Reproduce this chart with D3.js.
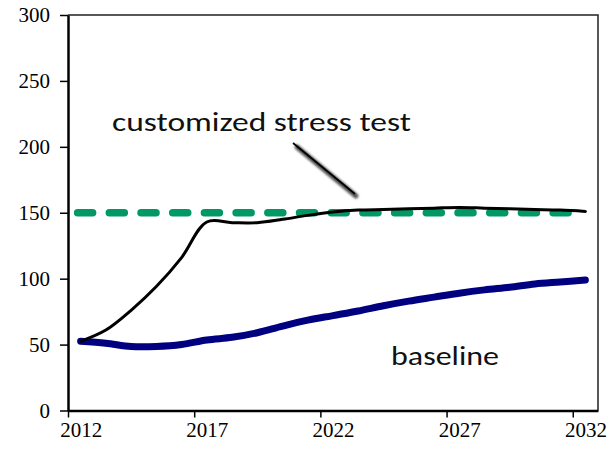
<!DOCTYPE html>
<html>
<head>
<meta charset="utf-8">
<script src="https://cdn.jsdelivr.net/npm/d3@7"></script>
<style>
  body { margin: 0; background: #fff; }
  svg { display: block; }
</style>
</head>
<body>
<script>
var years = d3.range(2012, 2033);
var baseline = [52.5, 51, 48.5, 48.5, 50, 53.5, 55.5, 59, 64, 68.5, 72, 75.5, 79.5, 83, 86, 89, 91.5, 93.5, 96, 97.5, 99];
var stressTest = [52.5, 61, 76, 94, 116, 143, 142.5, 142.5, 145, 148, 150.5, 152, 152.5, 153, 153.5, 154, 153.5, 153, 152.5, 152, 151];
var threshold = years.map(function(){ return 150; });
var yTicks = [0, 50, 100, 150, 200, 250, 300];
var xTicks = [2012, 2017, 2022, 2027, 2032];

var width = 613, height = 449;
var plotLeft = 68, plotRight = 598, plotTop = 15, plotBottom = 410.5;

var svg = d3.select("body").append("svg")
	.attr("width", width)
	.attr("height", height);

var x = d3.scaleLinear().domain([2012, 2033]).range([plotLeft, plotRight]);
var y = d3.scaleLinear().domain([0, 300]).range([plotBottom, plotTop]);
var half = (x(2013) - x(2012)) / 2;

// frame (top + right, thinner)
svg.append("path")
	.attr("d", "M" + plotLeft + "," + plotTop + "H" + plotRight + "V" + plotBottom)
	.attr("fill", "none")
	.attr("stroke", "#222")
	.attr("stroke-width", 1.5);

// y axis
var yAxis = svg.append("g")
	.attr("transform", "translate(" + plotLeft + ",0)")
	.call(d3.axisLeft(y).tickValues(yTicks).tickSize(8).tickSizeOuter(0).tickPadding(10));

// x axis: ticks on category edges, labels in the middle of the category
var xAxis = svg.append("g")
	.attr("transform", "translate(0," + plotBottom + ")")
	.call(d3.axisBottom(x).tickValues(xTicks).tickFormat(d3.format("d")).tickSize(7).tickSizeOuter(0).tickPadding(5));
xAxis.selectAll(".tick text").attr("x", half);

[yAxis, xAxis].forEach(function(g){
	g.select(".domain").attr("stroke", "#000").attr("stroke-width", 2.5);
	g.selectAll(".tick line").attr("stroke", "#000").attr("stroke-width", 1.5);
	g.selectAll(".tick text")
		.attr("fill", "#000")
		.style("font-family", "'Liberation Serif', 'Times New Roman', serif")
		.style("font-size", "21px");
});

function px(i){ return x(years[i] + 0.5); }

var line = d3.line()
	.x(function(d, i){ return px(i); })
	.y(function(d){ return y(d); })
	.curve(d3.curveCatmullRom.alpha(0.5));

// green dashed threshold
svg.append("path")
	.datum(threshold)
	.attr("d", d3.line().x(function(d, i){ return px(i) - 3; }).y(function(d){ return y(d); }))
	.attr("fill", "none")
	.attr("stroke", "#009966")
	.attr("stroke-width", 7.5)
	.attr("stroke-linecap", "round")
	.attr("stroke-dasharray", "15 16.7");

// baseline
svg.append("path")
	.datum(baseline)
	.attr("d", line)
	.attr("fill", "none")
	.attr("stroke", "#000080")
	.attr("stroke-width", 7)
	.attr("stroke-linecap", "round");

// customized stress test
svg.append("path")
	.datum(stressTest)
	.attr("d", line)
	.attr("fill", "none")
	.attr("stroke", "#000")
	.attr("stroke-width", 3)
	.attr("stroke-linecap", "round");

// annotations
var labelFont = "Carlito, Calibri, Lato, 'Noto Sans', sans-serif";
svg.append("text")
	.attr("x", 112).attr("y", 131)
	.attr("textLength", 299).attr("lengthAdjust", "spacingAndGlyphs")
	.style("font-family", labelFont).style("font-size", "26px").attr("fill", "#111")
	.text("customized stress test");

svg.append("text")
	.attr("x", 391).attr("y", 365)
	.attr("textLength", 108).attr("lengthAdjust", "spacingAndGlyphs")
	.style("font-family", labelFont).style("font-size", "26px").attr("fill", "#111")
	.text("baseline");

// pointer with soft shadow
var defs = svg.append("defs");
defs.append("filter").attr("id", "blur")
	.append("feGaussianBlur").attr("stdDeviation", 1.2);
svg.append("line")
	.attr("x1", 297).attr("y1", 147).attr("x2", 356).attr("y2", 196)
	.attr("stroke", "#555").attr("stroke-width", 5).attr("stroke-linecap", "round")
	.attr("filter", "url(#blur)");
svg.append("line")
	.attr("x1", 293).attr("y1", 143).attr("x2", 355).attr("y2", 194)
	.attr("stroke", "#000").attr("stroke-width", 1.8);
</script>
</body>
</html>
